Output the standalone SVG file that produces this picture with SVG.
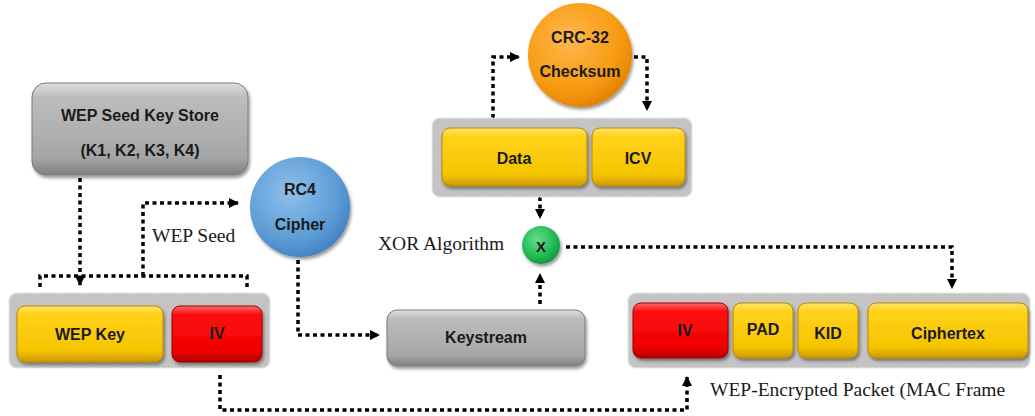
<svg xmlns="http://www.w3.org/2000/svg" width="1035" height="416" viewBox="0 0 1035 416">
<defs>
<style>
.lbl{font-family:"Liberation Sans",Arial,sans-serif;font-weight:bold;font-size:16px;fill:#1a1a1a;text-anchor:middle;dominant-baseline:central}
.ser{font-family:"Liberation Serif","Times New Roman",serif;font-size:19.5px;fill:#1a1a1a}
.con{fill:#c4c4c4;stroke:#e6e6e6;stroke-width:1.5;stroke-dasharray:2 1}
.yel{fill:url(#gY);stroke:#b8860b;stroke-width:1}
.red{fill:url(#gR);stroke:#a00000;stroke-width:1}
.gry{fill:url(#gG);stroke:#7a7a7a;stroke-width:1}
.dot{fill:none;stroke:#000;stroke-width:3.5;stroke-dasharray:4 3.5}
</style>
<linearGradient id="gY" x1="0" y1="0" x2="0" y2="1">
<stop offset="0" stop-color="#ffe36a"/><stop offset="0.15" stop-color="#ffd21a"/><stop offset="0.8" stop-color="#f5c400"/><stop offset="1" stop-color="#c99a00"/>
</linearGradient>
<linearGradient id="gR" x1="0" y1="0" x2="0" y2="1">
<stop offset="0" stop-color="#ff6a6a"/><stop offset="0.15" stop-color="#ff1010"/><stop offset="0.8" stop-color="#f00000"/><stop offset="1" stop-color="#b00000"/>
</linearGradient>
<linearGradient id="gG" x1="0" y1="0" x2="0" y2="1">
<stop offset="0" stop-color="#e0e0e0"/><stop offset="0.15" stop-color="#bdbdbd"/><stop offset="0.8" stop-color="#a6a6a6"/><stop offset="1" stop-color="#808080"/>
</linearGradient>
<radialGradient id="gB" cx="0.4" cy="0.35" r="0.7">
<stop offset="0" stop-color="#8fc0ec"/><stop offset="0.7" stop-color="#5b9bd5"/><stop offset="1" stop-color="#3f7fbf"/>
</radialGradient>
<radialGradient id="gO" cx="0.4" cy="0.35" r="0.7">
<stop offset="0" stop-color="#ffb84d"/><stop offset="0.7" stop-color="#f79a10"/><stop offset="1" stop-color="#e07f00"/>
</radialGradient>
<radialGradient id="gGr" cx="0.4" cy="0.35" r="0.7">
<stop offset="0" stop-color="#5fe08a"/><stop offset="0.7" stop-color="#1fb552"/><stop offset="1" stop-color="#109040"/>
</radialGradient>
<filter id="sh" x="-10%" y="-10%" width="130%" height="140%">
<feDropShadow dx="1.5" dy="2.5" stdDeviation="1.5" flood-color="#000" flood-opacity="0.4"/>
</filter>
<marker id="ar" viewBox="0 0 10 10" refX="9" refY="5" markerWidth="3" markerHeight="3" orient="auto" markerUnits="strokeWidth">
<path d="M0,0 L10,5 L0,10 z" fill="#000"/>
</marker>
</defs>
<rect width="1035" height="416" fill="#fff"/>

<g id="connectors">
<path class="dot" d="M80,178 V285" marker-end="url(#ar)"/>
<path class="dot" d="M40,287 V276 H247 V287"/>
<path class="dot" d="M143,276 V203 H238" marker-end="url(#ar)"/>
<path class="dot" d="M298,260 V335 H379" marker-end="url(#ar)"/>
<path class="dot" d="M540,304 V274" marker-end="url(#ar)"/>
<path class="dot" d="M540,197 V218" marker-end="url(#ar)"/>
<path class="dot" d="M493,118 V57 H519" marker-end="url(#ar)"/>
<path class="dot" d="M634,57 H647 V110" marker-end="url(#ar)"/>
<path class="dot" d="M566,247 H952 V288" marker-end="url(#ar)"/>
<path class="dot" d="M220,375 V410 H687 V377" marker-end="url(#ar)"/>
</g>

<g id="seedstore">
<rect x="32" y="83" width="216" height="92" rx="14" class="gry" filter="url(#sh)"/>
<text class="lbl" x="140" y="115">WEP Seed Key Store</text>
<text class="lbl" x="140" y="150">(K1, K2, K3, K4)</text>
</g>

<g id="wepseed-label">
<text class="ser" x="152" y="242">WEP Seed</text>
</g>

<g id="rc4">
<circle cx="300" cy="207" r="50" fill="url(#gB)" filter="url(#sh)"/>
<text class="lbl" x="300" y="189">RC4</text>
<text class="lbl" x="300" y="224">Cipher</text>
</g>

<g id="seedgroup">
<rect x="9" y="293" width="261" height="75" rx="8" class="con"/>
<rect x="17" y="306" width="146" height="56" rx="8" class="yel" filter="url(#sh)"/>
<text class="lbl" x="90" y="334">WEP Key</text>
<rect x="172" y="306" width="90" height="56" rx="8" class="red" filter="url(#sh)"/>
<text class="lbl" x="217" y="333">IV</text>
</g>

<g id="keystream">
<rect x="387" y="310" width="198" height="56" rx="10" class="gry" filter="url(#sh)"/>
<text class="lbl" x="486" y="337">Keystream</text>
</g>

<g id="xor">
<text class="ser" x="378" y="250">XOR Algorithm</text>
<circle cx="541" cy="245" r="19" fill="url(#gGr)" filter="url(#sh)"/>
<text class="lbl" x="541" y="246" style="font-size:15px">X</text>
</g>

<g id="crc">
<circle cx="580" cy="55" r="52" fill="url(#gO)" filter="url(#sh)"/>
<text class="lbl" x="580" y="37">CRC-32</text>
<text class="lbl" x="580" y="71">Checksum</text>
</g>

<g id="plaingroup">
<rect x="432" y="118" width="260" height="79" rx="8" class="con"/>
<rect x="442" y="128" width="145" height="58" rx="8" class="yel" filter="url(#sh)"/>
<text class="lbl" x="514" y="158">Data</text>
<rect x="592" y="128" width="93" height="58" rx="8" class="yel" filter="url(#sh)"/>
<text class="lbl" x="638" y="158">ICV</text>
</g>

<g id="packet">
<rect x="628" y="293" width="402" height="75" rx="8" class="con"/>
<rect x="633" y="303" width="95" height="55" rx="8" class="red" filter="url(#sh)"/>
<text class="lbl" x="685" y="330">IV</text>
<rect x="733" y="303" width="60" height="55" rx="8" class="yel" filter="url(#sh)"/>
<text class="lbl" x="763" y="329">PAD</text>
<rect x="798" y="303" width="60" height="55" rx="8" class="yel" filter="url(#sh)"/>
<text class="lbl" x="828" y="333">KID</text>
<rect x="868" y="303" width="160" height="55" rx="8" class="yel" filter="url(#sh)"/>
<text class="lbl" x="948" y="333">Ciphertex</text>
<text class="ser" x="710" y="396">WEP-Encrypted Packet (MAC Frame</text>
</g>
</svg>
